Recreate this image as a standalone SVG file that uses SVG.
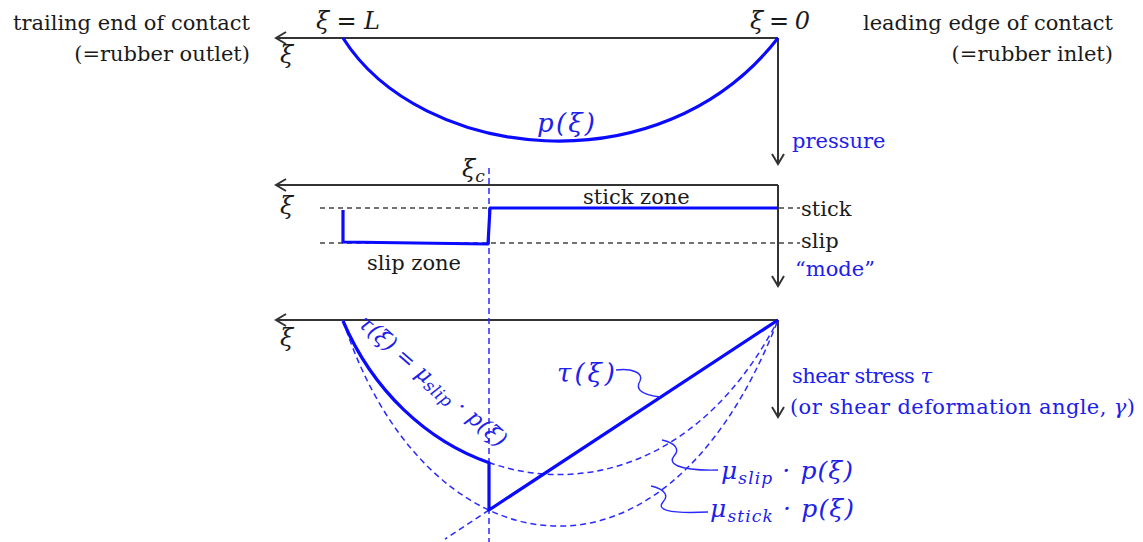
<svg xmlns="http://www.w3.org/2000/svg" width="1143" height="542" viewBox="0 0 1143 542">
<style>
.t{font-family:"DejaVu Serif","Liberation Serif",serif;font-size:21px;fill:#1a1a1a}
.m{font-family:"DejaVu Serif","Liberation Serif",serif;font-style:italic;font-size:24px;fill:#1a1a1a}
.b{fill:#2020e8}
.ax{fill:none;stroke:#333;stroke-width:2}
.blue{fill:none;stroke:#0a0aff;stroke-width:3.2;stroke-linejoin:round}
.bd{fill:none;stroke:#2a2aff;stroke-width:1.5;stroke-dasharray:6 4}
.kd{fill:none;stroke:#444;stroke-width:1.3;stroke-dasharray:5 4}
.sq{fill:none;stroke:#2a2aff;stroke-width:1.4}
.sub{font-size:17px}
</style>
<defs>
<marker id="arr" markerUnits="userSpaceOnUse" markerWidth="14" markerHeight="14" refX="11" refY="7" orient="auto">
<path d="M1,1 L11,7 L1,13" fill="none" stroke="#333" stroke-width="2"/>
</marker>
</defs>

<g id="connectors">
<path class="ax" d="M778,38 L276,38" marker-end="url(#arr)"/>
<path class="ax" d="M778,38 L778,164" marker-end="url(#arr)"/>
<path class="ax" d="M778,185 L276,185" marker-end="url(#arr)"/>
<path class="ax" d="M778,185 L778,286" marker-end="url(#arr)"/>
<path class="ax" d="M778,320 L276,320" marker-end="url(#arr)"/>
<path class="ax" d="M778,320 L778,417" marker-end="url(#arr)"/>
<path class="kd" d="M320,208 L800,208"/>
<path class="kd" d="M320,243 L800,243"/>
<path class="bd" d="M489,168 L489,542"/>
</g>

<g id="pressure-curve">
<path class="blue" d="M343,38 C420,160 660,190 778,38"/>
</g>

<g id="mode-step">
<path class="blue" d="M343,210 L343,242 L488,244 L490,208 L778,208"/>
</g>

<g id="shear-curves">
<path class="bd" d="M343,320 C420,503 660,548 778,320"/>
<path class="bd" d="M343,320 C420,564 660,624 778,320"/>
<path class="bd" d="M489,510 L445,539"/>
<path class="blue" d="M343,321 C372.8,390.8 427,441 489,462.7 L489,510 L778,320"/>
</g>

<g id="callouts">
<path class="sq" d="M616,370 C632,368 644,373 640,381 C636,388 638,394 660,397"/>
<path class="sq" d="M662,440 C676,443 680,450 674,456 C668,463 676,471 718,470"/>
<path class="sq" d="M651,486 C665,489 669,496 663,502 C657,509 665,514 708,512"/>
</g>

<g id="labels">
<text class="t" x="250" y="30" text-anchor="end">trailing end of contact</text>
<text class="t" x="250" y="61" text-anchor="end">(=rubber outlet)</text>
<text class="t" x="1113" y="30" text-anchor="end">leading edge of contact</text>
<text class="t" x="1113" y="61" text-anchor="end">(=rubber inlet)</text>
<text class="m" x="316" y="29" textLength="64">ξ = L</text>
<text class="m" x="750" y="29" textLength="60">ξ = 0</text>
<text class="m" x="280" y="63">ξ</text>
<text class="m b" x="537" y="132" style="font-size:26px" textLength="58">p(ξ)</text>
<text class="t b" x="792" y="148">pressure</text>

<text class="m" x="462" y="177">ξ<tspan class="sub" dy="5">c</tspan></text>
<text class="m" x="280" y="214">ξ</text>
<text class="t" x="583" y="204">stick zone</text>
<text class="t" x="367" y="270">slip zone</text>
<text class="t" x="801" y="216">stick</text>
<text class="t" x="801" y="248">slip</text>
<text class="t b" x="795" y="276">“mode”</text>

<text class="m" x="280" y="346">ξ</text>
<text class="m b" transform="translate(357,325) rotate(41)" style="font-size:22px" textLength="188">τ(ξ) = μ<tspan class="sub" dy="4">slip</tspan><tspan dy="-4"> · p(ξ)</tspan></text>
<text class="m b" x="557" y="382" style="font-size:26px" textLength="58">τ(ξ)</text>
<text class="t b" x="792" y="383" textLength="140">shear stress <tspan font-style="italic">τ</tspan></text>
<text class="t b" x="790" y="414" textLength="345">(or shear deformation angle, <tspan font-style="italic">γ</tspan>)</text>
<text class="m b" x="721" y="479" style="font-size:25px" textLength="132">μ<tspan class="sub" dy="5">slip</tspan><tspan dy="-5"> · p(ξ)</tspan></text>
<text class="m b" x="710" y="517" style="font-size:25px" textLength="144">μ<tspan class="sub" dy="5">stick</tspan><tspan dy="-5"> · p(ξ)</tspan></text>
</g>
</svg>
